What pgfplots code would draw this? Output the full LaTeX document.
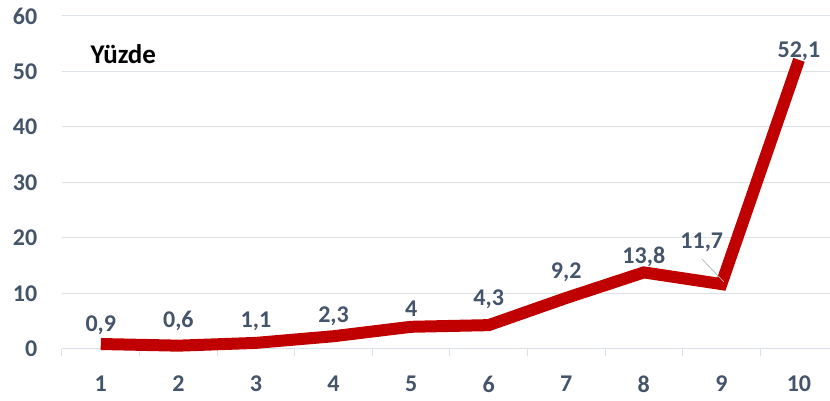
\documentclass[border=0pt]{standalone}
\usepackage{pgfplots}
\usepackage{pgfplotstable}
\pgfplotsset{compat=1.18}
\usepackage{fontspec}
\setmainfont{Carlito}
\definecolor{lblc}{HTML}{44546A}
\definecolor{gridc}{HTML}{DDE2E9}
\definecolor{linec}{HTML}{C00000}
\pgfplotstableread{
x  y     lab   dy
1  0.9   0,9   0.4
2  0.6   0,6   5.4
3  1.1   1,1   2.4
4  2.3   2,3   1.4
5  4     4     1.4
6  4.3   4,3   7.4
7  9.2   9,2   6.4
8  13.8  13,8  -3.6
9  11.7  {}    0
10 52.1  52,1  -10.6
}\datatable
\begin{document}
\begin{tikzpicture}
\useasboundingbox (-62pt,-52pt) rectangle (768pt,349pt);
\begin{axis}[
  at={(0,0)}, anchor=south west,
  width=768pt, height=333pt, scale only axis,
  xmin=0.5, xmax=10.4, ymin=0, ymax=60,
  ytick={0,10,...,60}, xtick={1,...,10},
  minor xtick={0.5,1.5,...,9.5},
  axis x line*=bottom, axis y line*=left,
  y axis line style={draw=none},
  x axis line style={gridc, line width=1pt},
  ymajorgrids, grid style={gridc, line width=1pt},
  major tick style={draw=none},
  minor tick style={gridc, line width=1pt},
  minor tick length=7pt, tick align=outside, xtick pos=bottom,
  /pgf/number format/assume math mode=true,
  ticklabel style={font=\bfseries\fontsize{24}{24}\selectfont, text=lblc},
  yticklabel style={xshift=-17pt},
  xticklabel style={yshift=-19pt},
  clip=false,
]
\addplot[linec, line width=12pt, line join=miter, line cap=butt,
  nodes near coords,
  point meta=explicit symbolic,
  visualization depends on={\thisrow{dy} \as \dy},
  nodes near coords style={font=\bfseries\fontsize{24}{24}\selectfont, text=lblc, anchor=south, yshift=\dy pt},
] table[x=x, y=y, meta=lab] {\datatable};
\draw[gray!60, line width=0.7pt] (axis cs:8.75,16.2) -- (axis cs:9.03,12.1);
\node[font=\bfseries\fontsize{24}{24}\selectfont, text=lblc] at (axis cs:8.747,19.3) {11,7};
\node[font=\bfseries\fontsize{27}{27}\selectfont, text=black] at (axis cs:1.29,53.2) {Yüzde};
\end{axis}
\end{tikzpicture}
\end{document}
